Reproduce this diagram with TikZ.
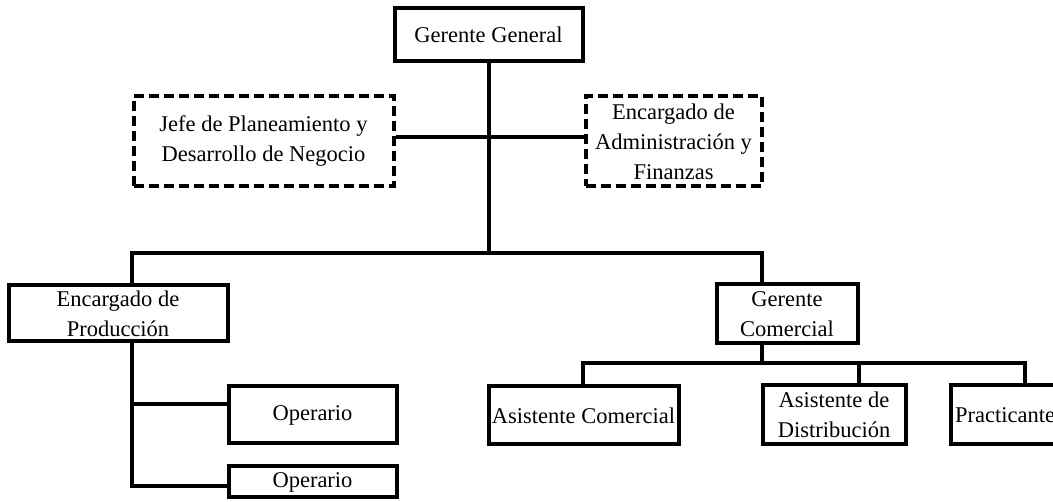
\documentclass[tikz,border=0pt]{standalone}
\usepackage{fontspec}
\setmainfont{Liberation Serif}
\begin{document}
\begin{tikzpicture}[x=1pt,y=-1pt,
  box/.style={draw, line width=4pt, align=center, inner sep=0pt,
    font=\fontsize{22.5}{30}\selectfont},
  dbox/.style={box, dash pattern=on 10pt off 5pt},
  conn/.style={line width=4pt, line join=miter}]
\useasboundingbox (0,0) rectangle (1053,502);
\clip (0,0) rectangle (1053,502);
% nodes
\node[box, minimum width=188pt, minimum height=53pt] (gg) at (488.5,35) {Gerente General};
\node[dbox, minimum width=260pt, minimum height=90pt] (jefe) at (263.5,141.5) {Jefe de Planeamiento y\\Desarrollo de Negocio};
\node[dbox, minimum width=176pt, minimum height=90pt] (admin) at (673.5,141.5) {Encargado de\\Administración y\\Finanzas};
\node[box, minimum width=219pt, minimum height=56pt] (prod) at (118,313.5) {Encargado de\\Producción};
\node[box, minimum width=141pt, minimum height=59pt] (gc) at (787,314) {Gerente\\Comercial};
\node[box, minimum width=168pt, minimum height=57pt] (op1) at (312.5,415) {Operario};
\node[box, minimum width=168pt, minimum height=31pt] (op2) at (312.5,482) {Operario};
\node[box, minimum width=190pt, minimum height=58pt] (ac) at (583.5,415.5) {Asistente Comercial};
\node[box, minimum width=143pt, minimum height=59pt] (ad) at (834,415) {Asistente de\\Distribución};
\node[box, minimum width=109pt, minimum height=59pt] (pr) at (1005,415) {Practicante};
% junction points
\coordinate (busL) at (132,253);
\coordinate (busR) at (762,253);
\coordinate (jL) at ([yshift=4pt]jefe.east);
\coordinate (aR) at ([yshift=4pt]admin.west);
\coordinate (b1) at (132,404);
\coordinate (b2) at (132,486);
\coordinate (sbL) at (583,363);
\coordinate (sbM) at (859,363);
\coordinate (sbR) at (1025,363);
% connectors
\draw[conn] (gg.south) -- (gg.south |- busL);
\draw[conn] (jL) -- (gg.south |- jL);
\draw[conn] (aR) -- (gg.south |- aR);
\draw[conn] (busL |- prod.north) -- (busL) -- (busR) -- (busR |- gc.north);
\draw[conn] (busL |- prod.south) -- (b2) -- (op2.west |- b2);
\draw[conn] (b1) -- (op1.west |- b1);
\draw[conn] (busR |- gc.south) -- (busR |- sbL);
\draw[conn] (sbL |- ac.north) -- (sbL) -- (sbR) -- (sbR |- pr.north);
\draw[conn] (sbM) -- (sbM |- ad.north);
\end{tikzpicture}
\end{document}
